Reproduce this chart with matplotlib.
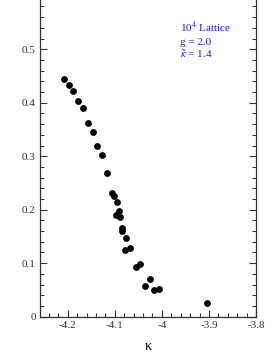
import matplotlib
matplotlib.use("Agg")
import matplotlib.pyplot as plt
from matplotlib.ticker import MultipleLocator, FuncFormatter

plt.rcParams['font.family'] = ['Liberation Serif', 'DejaVu Serif']
plt.rcParams['mathtext.fontset'] = 'stix'
plt.rcParams['axes.unicode_minus'] = False

# kappa vs order parameter
kappa = [-4.208, -4.198, -4.188, -4.178, -4.168, -4.157, -4.147, -4.138,
         -4.127, -4.117, -4.106, -4.102, -4.096, -4.092, -4.097, -4.090,
         -4.084, -4.084, -4.076, -4.079, -4.067, -4.056, -4.047, -4.026,
         -4.036, -4.016, -4.006, -3.905]
value = [0.445, 0.434, 0.421, 0.404, 0.391, 0.362, 0.345, 0.319,
         0.303, 0.268, 0.232, 0.226, 0.214, 0.198, 0.190, 0.186,
         0.165, 0.161, 0.147, 0.125, 0.128, 0.092, 0.098, 0.071,
         0.057, 0.049, 0.052, 0.026]

fig = plt.figure(figsize=(2.77, 3.58), dpi=100)
ax = fig.add_axes([0.1444, 0.1154, 0.7798, 0.8846])

ax.scatter(kappa, value, s=24, color='black', zorder=3, linewidths=0)

ax.set_xlim(-4.259, -3.8)
ax.set_ylim(0, 0.592)

ax.xaxis.set_major_locator(MultipleLocator(0.1))
ax.xaxis.set_minor_locator(MultipleLocator(0.02))
ax.yaxis.set_major_locator(MultipleLocator(0.1))
ax.yaxis.set_minor_locator(MultipleLocator(0.02))
fmt = FuncFormatter(lambda v, p: '%g' % round(v, 3))
ax.xaxis.set_major_formatter(fmt)
ax.yaxis.set_major_formatter(fmt)

ax.tick_params(which='both', direction='in', top=False, right=True,
               labelsize=8, colors='#333333', width=0.8)
ax.tick_params(which='major', length=5, pad=3)
ax.tick_params(which='minor', length=3)
ax.spines['top'].set_visible(False)
for s in ['left', 'right', 'bottom']:
    ax.spines[s].set_color('#333333')
    ax.spines[s].set_linewidth(0.9)

ax.set_xlabel('κ', fontsize=10, labelpad=7)

blue = '#1a1aff'
ax.text(0.65, 0.899, r'10$^{4}$ Lattice', transform=ax.transAxes,
        color=blue, fontsize=8, va='baseline')
ax.text(0.65, 0.858, 'g = 2.0', transform=ax.transAxes,
        color=blue, fontsize=8, va='baseline')
ax.text(0.65, 0.818, r'$\tilde{\kappa}$ = 1.4', transform=ax.transAxes,
        color=blue, fontsize=8, va='baseline')

fig.savefig('out.png', dpi=100)
